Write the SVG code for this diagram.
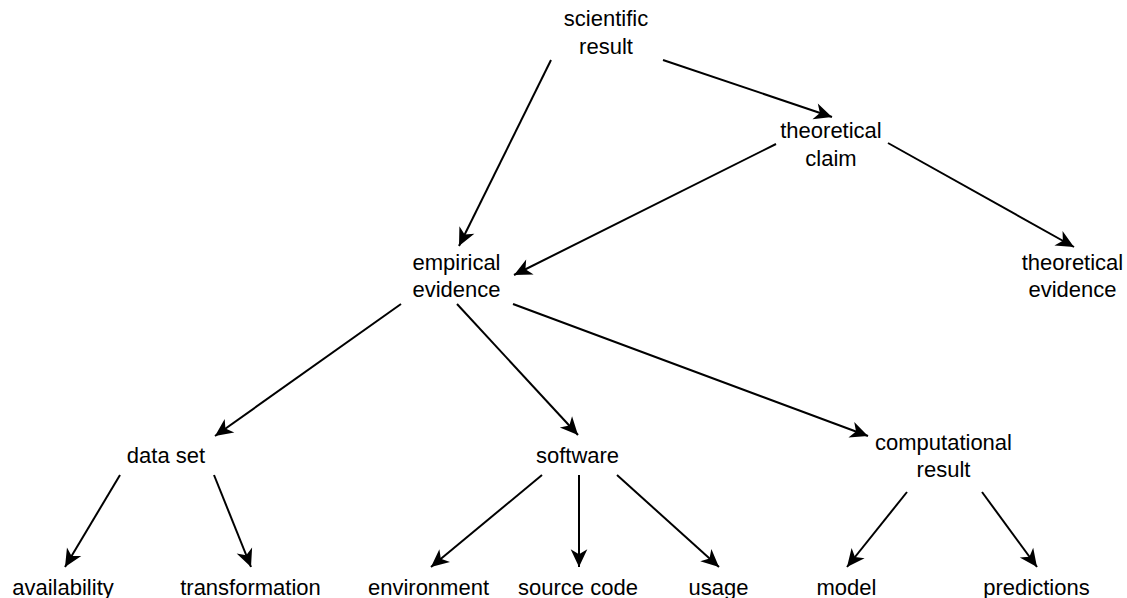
<svg xmlns="http://www.w3.org/2000/svg" width="1127" height="598" viewBox="0 0 1127 598">
<style>
text{font-family:"Liberation Sans",Arial,Helvetica,sans-serif;font-size:22px;fill:#000;text-anchor:middle}
.c line{stroke:#000;stroke-width:2;fill:none;marker-end:url(#ah)}
</style>
<defs>
<marker id="ah" markerUnits="userSpaceOnUse" markerWidth="20" markerHeight="20" viewBox="-17 -9 18 18" refX="0" refY="0" orient="auto">
<path d="M0,0 L-16,-7.5 L-11.5,0 L-16,7.5 Z" fill="#000"/>
</marker>
</defs>
<rect width="1127" height="598" fill="#fff"/>
<g id="n-scientific-result"><text x="606" y="26">scientific</text><text x="606" y="54">result</text></g>
<g id="n-theoretical-claim"><text x="831" y="138">theoretical</text><text x="831" y="166">claim</text></g>
<g id="n-empirical-evidence"><text x="456.5" y="270">empirical</text><text x="456.5" y="297">evidence</text></g>
<g id="n-theoretical-evidence"><text x="1072.5" y="270">theoretical</text><text x="1072.5" y="297">evidence</text></g>
<g id="n-data-set"><text x="166" y="463">data set</text></g>
<g id="n-software"><text x="577.5" y="463">software</text></g>
<g id="n-computational-result"><text x="943.5" y="450">computational</text><text x="943.5" y="477">result</text></g>
<g id="n-availability"><text x="63" y="595">availability</text></g>
<g id="n-transformation"><text x="250.5" y="595">transformation</text></g>
<g id="n-environment"><text x="428.5" y="595">environment</text></g>
<g id="n-source-code"><text x="578" y="595">source code</text></g>
<g id="n-usage"><text x="718.5" y="595">usage</text></g>
<g id="n-model"><text x="846.5" y="595">model</text></g>
<g id="n-predictions"><text x="1036.5" y="595">predictions</text></g>
<g id="connectors" class="c">
<line x1="551" y1="60" x2="459" y2="246"/>
<line x1="663" y1="60" x2="832" y2="117"/>
<line x1="776" y1="144" x2="514" y2="275"/>
<line x1="888" y1="143" x2="1074" y2="247"/>
<line x1="401" y1="304" x2="215" y2="436"/>
<line x1="457" y1="304" x2="578" y2="435"/>
<line x1="513" y1="304" x2="868" y2="436"/>
<line x1="120" y1="475" x2="65" y2="567"/>
<line x1="214" y1="475" x2="251" y2="567"/>
<line x1="542" y1="475" x2="431" y2="567"/>
<line x1="579" y1="475" x2="579" y2="567"/>
<line x1="617" y1="475" x2="719" y2="567"/>
<line x1="907" y1="492" x2="847" y2="567"/>
<line x1="982" y1="492" x2="1037" y2="567"/>
</g>
</svg>
